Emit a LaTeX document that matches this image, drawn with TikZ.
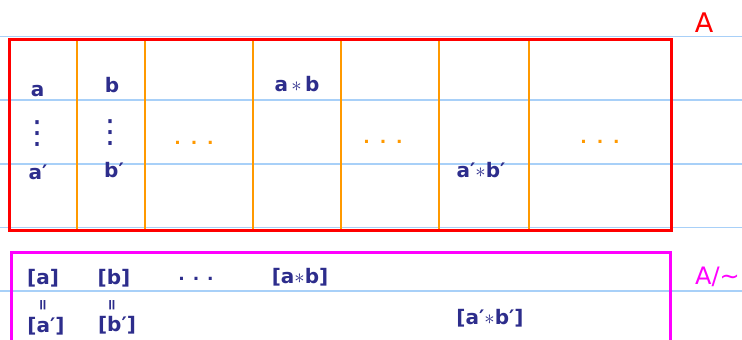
\documentclass[tikz,border=0pt]{standalone}
\usepackage{fontspec}
\setmainfont{DejaVu Sans}
\definecolor{ink}{RGB}{45,45,140}
\definecolor{ruleblue}{RGB}{168,208,248}
\definecolor{cellorange}{RGB}{255,153,0}
\definecolor{quotpink}{RGB}{255,0,255}
\definecolor{setred}{RGB}{255,0,0}
\tikzset{
  ruled/.style={draw=ruleblue, line width=1.6pt},
  setbox/.style={draw=setred, line width=3pt},
  quotbox/.style={draw=quotpink, line width=3pt},
  cellline/.style={draw=cellorange, line width=2.4pt},
  elem/.style={text=ink, inner sep=0pt, font=\bfseries\fontsize{20}{24}\selectfont},
  vdotsel/.style={text=ink, inner sep=0pt, font=\fontsize{32}{34}\selectfont},
  eqmark/.style={text=ink, inner sep=0pt, rotate=90,
    font=\bfseries\fontsize{15}{16}\selectfont},
  celldots/.style={text=cellorange, inner sep=0pt, font=\bfseries\fontsize{17}{20}\selectfont},
  setname/.style={inner sep=0pt, font=\fontsize{27}{30}\selectfont}
}
\begin{document}
\begin{tikzpicture}[x=1pt, y=-1pt]
  \useasboundingbox (0,0) rectangle (742,340);

  % ruled notebook lines
  \foreach \y in {36.5,100,164,227.5,291}
    \draw[ruled] (0,\y) -- (742,\y);

  % equivalence-class columns of A
  \foreach \x in {77,145,253,341,439,529}
    \draw[cellline] (\x,39) -- (\x,230);

  % the set A
  \draw[setbox] (9,39) rectangle (671,230);
  \node[setname, text=setred] (labA) at (704,23) {A};

  % elements inside the columns
  \node[elem] (a)    at (37.5,91) {a};
  \node[elem] (b)    at (112,85)  {b};
  \node[elem] (ab)   at (297,84)  {a\,$\ast$\,b};
  \node[vdotsel] (va) at (37,134) {⋮};
  \node[vdotsel] (vb) at (110,133) {⋮};
  \node[elem] (ap)   at (38,172)  {a′};
  \node[elem] (bp)   at (114,170) {b′};
  \node[elem] (apbp) at (481,170) {a′$\ast$b′};

  \node[celldots] (d1) at (194,143) {.\hspace{10pt}.\hspace{10pt}.};
  \node[celldots] (d2) at (383,142) {.\hspace{10pt}.\hspace{10pt}.};
  \node[celldots] (d3) at (600,142) {.\hspace{10pt}.\hspace{10pt}.};

  % the quotient A/~
  \draw[quotbox] (11,345) -- (11,252) -- (670,252) -- (670,345);
  \node[setname, text=quotpink, anchor=east, font=\fontsize{24}{27}\selectfont]
    (labQ) at (740,277) {A/∼};

  \node[elem] (ca)   at (43,278)  {[a]};
  \node[elem] (cb)   at (114,278) {[b]};
  \node[elem, font=\bfseries\fontsize{17}{20}\selectfont] (cd) at (196,279) {.\hspace{8pt}.\hspace{8pt}.};
  \node[elem] (cab)  at (300,277) {[a$\ast$b]};
  \node[eqmark] (eqa) at (44,305) {=};
  \node[eqmark] (eqb) at (113,305) {=};
  \node[elem] (cap)  at (46,326)  {[a′]};
  \node[elem] (cbp)  at (117,325) {[b′]};
  \node[elem] (capb) at (490,318) {[a′$\ast$b′]};
\end{tikzpicture}
\end{document}
